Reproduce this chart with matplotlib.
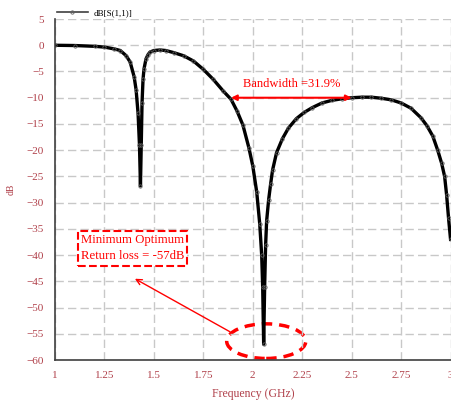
import matplotlib.pyplot as plt
from matplotlib.patches import Ellipse

# S11 response
freq_ghz = [1.00, 1.10, 1.20, 1.25, 1.30, 1.33, 1.36, 1.38, 1.40, 1.41,
            1.42, 1.427, 1.432, 1.436, 1.44, 1.445, 1.45, 1.46, 1.47, 1.48,
            1.50, 1.53, 1.56, 1.60, 1.65, 1.70, 1.75, 1.80, 1.85, 1.89,
            1.92, 1.95, 1.98, 2.00, 2.02, 2.035, 2.045, 2.05, 2.055, 2.06,
            2.065, 2.07, 2.08, 2.09, 2.10, 2.12, 2.15, 2.18, 2.22, 2.26,
            2.30, 2.35, 2.40, 2.45, 2.50, 2.55, 2.60, 2.65, 2.70, 2.75,
            2.80, 2.85, 2.88, 2.91, 2.935, 2.955, 2.97, 2.98, 2.99, 3.00]
s11_db = [0.0, -0.05, -0.2, -0.35, -0.7, -1.0, -2.0, -3.2, -6.0, -8.5,
          -13.0, -19.0, -26.8, -19.0, -11.0, -6.5, -4.5, -2.6, -1.8, -1.3,
          -1.0, -0.9, -1.0, -1.4, -2.0, -3.0, -4.6, -6.5, -8.7, -10.3,
          -12.5, -15.2, -19.5, -23.0, -28.0, -34.0, -40.0, -46.0, -57.0, -46.0,
          -38.0, -33.5, -29.5, -26.5, -23.8, -20.5, -17.8, -15.8, -14.0, -12.8,
          -11.9, -11.0, -10.5, -10.2, -10.0, -9.9, -9.9, -10.1, -10.4, -11.0,
          -12.0, -13.8, -15.3, -17.3, -20.0, -22.5, -25.0, -28.5, -33.0, -37.0]

x_ticks = [1, 1.25, 1.5, 1.75, 2, 2.25, 2.5, 2.75, 3]
x_labels = ["1", "1.25", "1.5", "1.75", "2", "2.25", "2.5", "2.75", "3"]
y_ticks = list(range(5, -61, -5))

bw_start, bw_end, bw_level = 1.89, 2.5, -10
min_freq, min_db = 2.068, -56.4

tick_red = "#b0404a"
plt.rcParams["font.family"] = ["Liberation Serif", "DejaVu Serif"]

fig = plt.figure(figsize=(4.51, 4.05), dpi=100)
ax = fig.add_axes([0.122, 0.111, 0.877, 0.842])

ax.plot(freq_ghz, s11_db, color="black", lw=2.4, marker="o", ms=2.4,
        mfc="none", mec="#606060", mew=0.6, label="dB[S(1,1)]")

ax.set_xlim(1, 3)
ax.set_ylim(-60, 5)
ax.set_xticks(x_ticks)
ax.set_xticklabels(x_labels)
ax.set_yticks(y_ticks)
ax.grid(True, color="#c8c8c8", ls=(0, (6, 3)), lw=1)
ax.tick_params(length=0, labelsize=8, labelcolor=tick_red, pad=8)
for side in ["top", "right"]:
    ax.spines[side].set_visible(False)
for side in ["left", "bottom"]:
    ax.spines[side].set_color("#404040")
    ax.spines[side].set_linewidth(1.2)

ax.set_xlabel("Frequency (GHz)", color=tick_red, fontsize=8.5, labelpad=6)
ax.set_ylabel("dB", color=tick_red, fontsize=7, labelpad=8)

leg = ax.legend(loc="lower left", bbox_to_anchor=(-0.005, 0.995),
                frameon=False, fontsize=6.5, handlelength=3.5,
                borderaxespad=0, handletextpad=0.6)
leg.get_lines()[0].set_linewidth(1.2)
leg.get_lines()[0].set_color("#404040")

# bandwidth marker
ax.annotate("", xy=(bw_start, bw_level), xytext=(bw_end, bw_level),
            arrowprops=dict(arrowstyle="<|-|>", color="red", lw=1.5,
                            mutation_scale=8, shrinkA=0, shrinkB=0))
ax.text((bw_start + bw_end) / 2, bw_level + 2.6, "Bandwidth =31.9%",
        color="red", fontsize=9, ha="center", va="center")

# minimum return loss callout
ax.add_patch(Ellipse((min_freq, min_db), 0.4, 6.6, fill=False, ec="red",
                     lw=2.5, ls=(0, (3, 2))))
ax.text(1.13, -38.7, "Minimum Optimum\nReturn loss = -57dB", color="red",
        fontsize=9.2, ha="left", va="center", linespacing=1.45,
        bbox=dict(boxstyle="square,pad=0.25", fc="white", ec="red",
                  lw=1.5, ls="--"))
ax.annotate("", xy=(1.404, -44.5), xytext=(1.884, -54.6),
            arrowprops=dict(arrowstyle="->", color="red", lw=1,
                            shrinkA=0, shrinkB=0))

fig.savefig("out.png", dpi=100)
plt.close(fig)
